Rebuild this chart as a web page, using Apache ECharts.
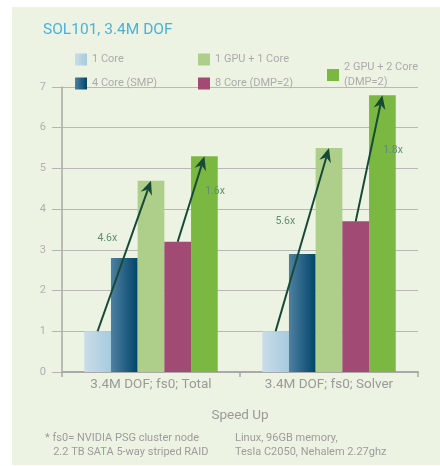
<!DOCTYPE html>
<html><head><meta charset="utf-8">
<script src="https://cdn.jsdelivr.net/npm/echarts@6/dist/echarts.min.js"></script>
<style>html,body{margin:0;padding:0;background:#fff}#c{width:440px;height:466px}</style>
</head><body><div id="c"></div>
<script>
// ---- data ----
const categories = ['3.4M DOF; fs0; Total', '3.4M DOF; fs0; Solver'];
const seriesNames = ['1 Core', '4 Core (SMP)', '1 GPU + 1 Core', '8 Core (DMP=2)', '2 GPU + 2 Core\n(DMP=2)'];
const core1 = [1.0, 1.0];
const core4 = [2.8, 2.9];
const gpu1 = [4.7, 5.5];
const core8 = [3.2, 3.7];
const gpu2 = [5.3, 6.8];
const yTicks = [0, 1, 2, 3, 4, 5, 6, 7];
// arrows: [category index, from series index, to series index, label]
const arrowCats = [0, 0, 1, 1];
const arrowFrom = [0, 3, 0, 3];
const arrowTo = [2, 4, 2, 4];
const arrowLabels = ['4.6x', '1.6x', '5.6x', '1.8x'];

const allValues = [core1, core4, gpu1, core8, gpu2];
const colors = [
  {type:'linear',x:0,y:0,x2:1,y2:0,colorStops:[{offset:0,color:'#cadce8'},{offset:1,color:'#a6cbe0'}]},
  {type:'linear',x:0,y:0,x2:1,y2:0,colorStops:[{offset:0,color:'#4f80a1'},{offset:1,color:'#00456a'}]},
  '#aecf8a', '#a14a73', '#7bb842'
];
const BARFRAC = 0.15;

const chart = echarts.init(document.getElementById('c'), null, {renderer:'canvas'});
const barSeries = seriesNames.map((n, i) => ({
  name: n, type: 'bar', data: allValues[i], barWidth: (BARFRAC*100)+'%', barGap: '0%',
  itemStyle: {color: colors[i]}, z: 2, animation: false
}));
const arrowData = arrowCats.map((c, k) => [c, allValues[arrowFrom[k]][c], allValues[arrowTo[k]][c], arrowFrom[k], arrowTo[k], k]);

const arrowSeries = {
  type: 'custom', name: 'arrows', coordinateSystem: 'cartesian2d', z: 5, animation: false,
  data: arrowData,
  renderItem: function (params, api) {
    const c = api.value(0);
    const bandW = api.size([1, 0])[0];
    const bw = bandW * BARFRAC;
    const p0 = api.coord([c, api.value(1)]);
    const p1 = api.coord([c, api.value(2)]);
    const x0 = p0[0] + (api.value(3) - 2) * bw;
    const x1 = p1[0] + (api.value(4) - 2) * bw;
    const y0 = p0[1], y1 = p1[1];
    const dx = x1 - x0, dy = y1 - y0;
    const len = Math.sqrt(dx*dx + dy*dy);
    const ux = dx/len, uy = dy/len;
    const hl = 14, hw = 6, notch = 4.5;
    const bx = x1 - ux*hl, by = y1 - uy*hl;
    const nx = -uy, ny = ux;
    const k = api.value(5);
    const isGpu = (api.value(3) === 0);
    const mx = (x0 + x1)/2, my = (y0 + y1)/2;
    const lx = isGpu ? mx - 17 : mx + 24;
    const ly = isGpu ? my - 18 : my - 8;
    return {type: 'group', children: [
      {type:'line', shape:{x1:x0,y1:y0,x2:x1 - ux*(hl-notch),y2:y1 - uy*(hl-notch)}, style:{stroke:'#174a36',lineWidth:2}},
      {type:'polygon', shape:{points:[[x1,y1],[bx+nx*hw,by+ny*hw],[x1-ux*(hl-notch),y1-uy*(hl-notch)],[bx-nx*hw,by-ny*hw]]}, style:{fill:'#174a36'}},
      {type:'text', style:{x:lx, y:ly, text: arrowLabels[k], fill:'#5f8e72', font:'10.5px Roboto', align:'center', verticalAlign:'middle'}}
    ]};
  }
};

const legendBase = {orient:'vertical', icon:'rect', itemWidth:12, itemHeight:12, itemGap:9,
  textStyle:{color:'#ababab', fontSize:11, fontFamily:'Roboto', lineHeight:15}, selectedMode:false};

chart.setOption({
  backgroundColor: 'transparent',
  animation: false,
  title: {text:'SOL101, 3.4M DOF', left: 38, top: 17,
    textStyle:{color:'#4eb0d9', fontSize:15.5, fontWeight:'normal', fontFamily:'Roboto'}},
  legend: [
    Object.assign({}, legendBase, {data:[seriesNames[0], seriesNames[1]], left:70, top:47}),
    Object.assign({}, legendBase, {data:[seriesNames[2], seriesNames[3]], left:193, top:47}),
    Object.assign({}, legendBase, {data:[seriesNames[4]], left:322, top:55})
  ],
  grid: {left: 62, right: 22, top: 87, bottom: 94, containLabel: false},
  xAxis: {type:'category', data: categories,
    axisLine:{show:true, lineStyle:{color:'#a9a9a9', width:2}},
    axisTick:{show:true, length:5, lineStyle:{color:'#a9a9a9', width:1.5}},
    axisLabel:{color:'#9a9a9a', fontSize:13.5, fontFamily:'Roboto', margin:6},
    name:'Speed Up', nameLocation:'middle', nameGap:37,
    nameTextStyle:{color:'#9a9a9a', fontSize:13.5, fontFamily:'Roboto'}},
  yAxis: {type:'value', min: yTicks[0], max: yTicks[yTicks.length-1], interval: 1,
    axisLine:{show:true, lineStyle:{color:'#a9a9a9', width:1.5}},
    axisTick:{show:true, inside:false, length:10, lineStyle:{color:'#b4b4b4'}},
    axisLabel:{color:'#b0b0b0', fontSize:11, fontFamily:'Roboto', margin:16},
    splitLine:{show:true, lineStyle:{color:'#b8b8b8', width:1}}},
  graphic: [
    {type:'rect', z:-10, silent:true, shape:{x:12, y:7, width:428, height:458}, style:{fill:'#edf3e2'}},
    {type:'text', left:45, top:431, style:{text:'* fs0= NVIDIA PSG cluster node\n   2.2 TB SATA 5-way striped RAID', fill:'#9c9c9c', font:'11px Roboto', lineHeight:14}},
    {type:'text', left:235, top:431, style:{text:'Linux, 96GB memory,\nTesla C2050, Nehalem 2.27ghz', fill:'#9c9c9c', font:'11px Roboto', lineHeight:14}}
  ],
  series: barSeries.concat([arrowSeries])
});
</script></body></html>
